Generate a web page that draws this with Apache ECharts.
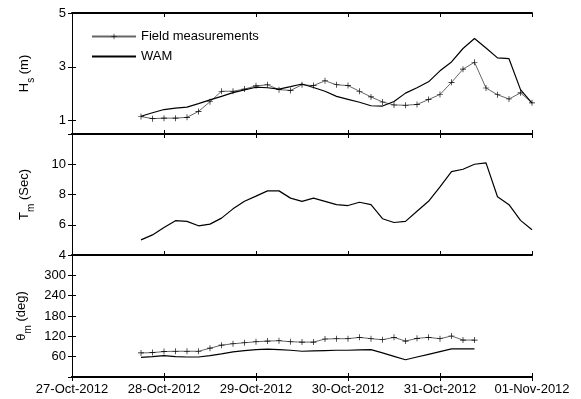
<!DOCTYPE html>
<html>
<head>
<meta charset="utf-8">
<script src="https://cdn.jsdelivr.net/npm/echarts@6/dist/echarts.min.js"></script>
<style>
  html, body { margin: 0; padding: 0; background: #fff; }
  #chart { width: 581px; height: 399px; }
</style>
</head>
<body>
<div id="chart"></div>
<script>
// Day tick labels along the shared time axis (hours since 27-Oct-2012 00:00)
const dayLabels = ['27-Oct-2012', '28-Oct-2012', '29-Oct-2012', '30-Oct-2012', '31-Oct-2012', '01-Nov-2012'];

// Three-hourly sampling times, starting 27-Oct-2012 18:00
const sampleHours = Array.from({ length: 35 }, (_, k) => 18 + 3 * k);

// Significant wave height (m)
const hsField = [1.15, 1.07, 1.09, 1.09, 1.12, 1.34, 1.70, 2.09, 2.09, 2.17, 2.29, 2.33, 2.15, 2.12, 2.33, 2.30, 2.48,
                 2.33, 2.30, 2.09, 1.88, 1.69, 1.58, 1.57, 1.60, 1.78, 1.97, 2.42, 2.91, 3.17, 2.21, 1.96, 1.80, 2.03, 1.66];
const hsWam = [1.16, 1.29, 1.41, 1.46, 1.50, 1.63, 1.77, 1.90, 2.04, 2.14, 2.24, 2.22, 2.17, 2.26, 2.36, 2.23, 2.09,
               1.90, 1.79, 1.68, 1.55, 1.54, 1.71, 2.02, 2.22, 2.44, 2.85, 3.18, 3.68, 4.05, 3.70, 3.33, 3.30, 2.15, 1.65];

// Mean wave period (s)
const tmWam = [5.00, 5.33, 5.82, 6.27, 6.22, 5.93, 6.04, 6.44, 7.05, 7.55, 7.89, 8.24, 8.24, 7.76, 7.55, 7.76, 7.55,
               7.33, 7.27, 7.49, 7.33, 6.40, 6.15, 6.22, 6.89, 7.55, 8.51, 9.51, 9.67, 10.0, 10.09, 7.85, 7.33, 6.29, 5.67];

// Mean wave direction (deg)
const dirField = [71, 72, 75, 76, 76, 76, 85, 94, 98, 101, 104, 106, 107, 104, 103, 103, 112,
                  113, 113, 117, 113, 110, 117, 106, 114, 117, 113, 121, 109, 109];
const dirWam = [58, 60, 63, 60, 59, 59, 63, 68, 74, 78, 81, 82, 81, 79, 76, 77, 78,
                79, 79, 80, 81, 71, 61, 51, 59, 67, 75, 83, 83, 83];

// Y tick values for each panel
const hsTicks = [1, 3, 5];
const tmTicks = [4, 6, 8, 10, 12];
const tmLabels = [4, 6, 8, 10];
const dirTicks = [0, 60, 120, 180, 240, 300, 360];
const dirLabels = [60, 120, 180, 240, 300];

const pair = (xs, ys) => ys.map((y, i) => [xs[i], y]);

const FONT = 'Liberation Sans, Arial, sans-serif';
const crossSymbol = 'path://M4.45,0h1.1v10h-1.1z M0,4.45h10v1.1h-10z';

const grids = [
  { left: 72, right: 49, top: 13, height: 121 },
  { left: 72, right: 49, top: 134, height: 121 },
  { left: 72, right: 49, top: 255, height: 122 }
];

function xAxes(gridIndex, showLabels) {
  const base = {
    type: 'value', gridIndex, min: 0, max: 120, interval: 24,
    splitLine: { show: false },
    axisLine: { show: true, lineStyle: { color: '#000', width: 2 } },
    axisTick: { show: true, inside: true, length: 4, lineStyle: { color: '#000', width: 1 } }
  };
  return [
    Object.assign({}, base, {
      position: 'bottom',
      axisLabel: {
        show: showLabels, color: '#000', fontFamily: FONT, fontSize: 13, margin: 6,
        formatter: v => dayLabels[Math.round(v / 24)]
      }
    }),
    Object.assign({}, base, { position: 'top', axisLabel: { show: false } })
  ];
}

function yAxes(gridIndex, min, max, ticks, labels, name) {
  const base = {
    type: 'value', gridIndex, min, max,
    splitLine: { show: false },
    axisLine: { show: true, lineStyle: { color: '#000', width: 1 } },
    axisTick: { show: true, inside: true, length: 4, customValues: ticks, lineStyle: { color: '#000', width: 1 } }
  };
  return [
    Object.assign({}, base, {
      position: 'left',
      name, nameLocation: 'middle', nameGap: 28, nameRotate: 90,
      nameTextStyle: { color: '#000', fontFamily: FONT, fontSize: 13, rich: subRich },
      axisLabel: { show: true, customValues: labels, color: '#000', fontFamily: FONT, fontSize: 13, margin: 6 }
    }),
    Object.assign({}, base, { position: 'right', axisLabel: { show: false } })
  ];
}

// Axis titles with a lowered subscript letter
const subRich = {
  a: { fontFamily: FONT, fontSize: 13, color: '#000', lineHeight: 14, verticalAlign: 'top' },
  b: { fontFamily: FONT, fontSize: 10, color: '#000', lineHeight: 26, verticalAlign: 'middle' }
};

const fieldStyle = {
  type: 'line', symbol: crossSymbol, symbolSize: 6, showSymbol: true,
  itemStyle: { color: '#000' },
  lineStyle: { color: '#666', width: 1 }
};
const wamStyle = {
  type: 'line', symbol: 'none',
  itemStyle: { color: '#000' },
  lineStyle: { color: '#000', width: 1.2 }
};

const option = {
  animation: false,
  backgroundColor: '#fff',
  grid: grids.map(g => Object.assign({ show: false }, g)),
  legend: {
    orient: 'vertical', left: 86, top: 24, itemWidth: 44, itemHeight: 7, itemGap: 5,
    textStyle: { color: '#000', fontFamily: FONT, fontSize: 13, lineHeight: 15 },
    data: [
      { name: 'Field measurements' },
      { name: 'WAM', itemStyle: { opacity: 0 } }
    ]
  },
  xAxis: [...xAxes(0, false), ...xAxes(1, false), ...xAxes(2, true)],
  yAxis: [
    ...yAxes(0, 0.5, 5, hsTicks, hsTicks, '{a|H}{b|s}{a| (m)}'),
    ...yAxes(1, 4, 12, tmTicks, tmLabels, '{a|T}{b|m}{a| (Sec)}'),
    ...yAxes(2, 0, 360, dirTicks, dirLabels, '{a|θ}{b|m}{a| (deg)}')
  ],
  series: [
    Object.assign({}, fieldStyle, { name: 'Field measurements', xAxisIndex: 0, yAxisIndex: 0, data: pair(sampleHours, hsField) }),
    Object.assign({}, wamStyle, { name: 'WAM', xAxisIndex: 0, yAxisIndex: 0, data: pair(sampleHours, hsWam) }),
    Object.assign({}, wamStyle, { name: 'WAM', xAxisIndex: 2, yAxisIndex: 2, data: pair(sampleHours, tmWam) }),
    Object.assign({}, fieldStyle, { name: 'Field measurements', xAxisIndex: 4, yAxisIndex: 4, data: pair(sampleHours, dirField) }),
    Object.assign({}, wamStyle, { name: 'WAM', xAxisIndex: 4, yAxisIndex: 4, data: pair(sampleHours, dirWam) })
  ]
};

echarts.init(document.getElementById('chart'), null, { renderer: 'canvas' }).setOption(option);
</script>
</body>
</html>
